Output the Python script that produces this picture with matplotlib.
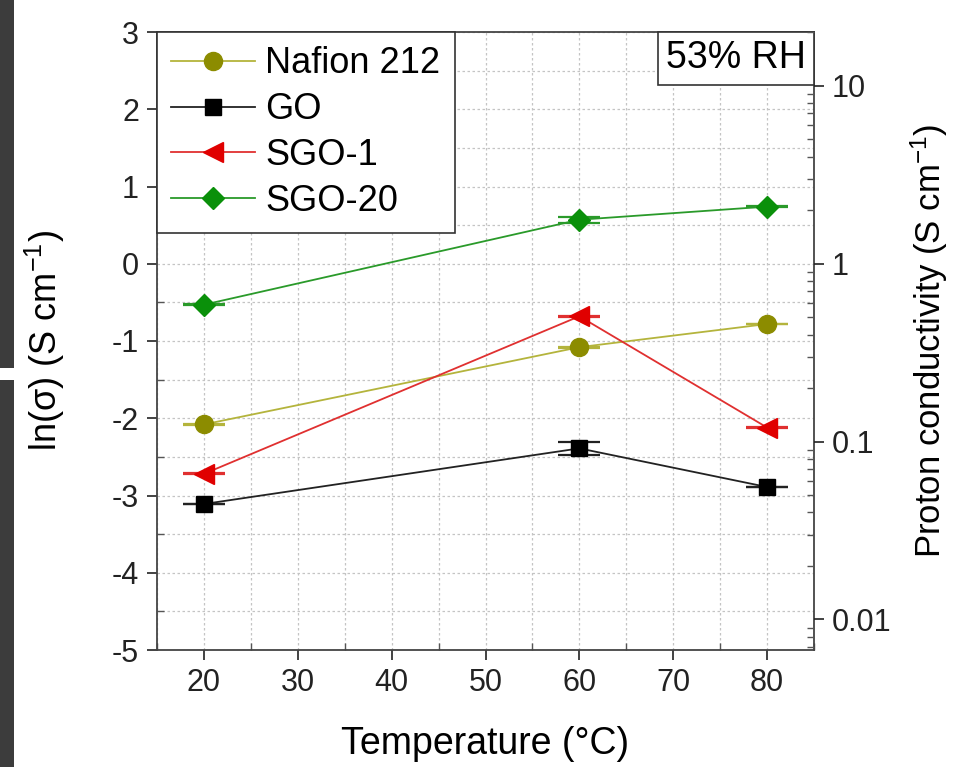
import numpy as np
import matplotlib
matplotlib.use("Agg")
import matplotlib.pyplot as plt
from matplotlib.ticker import MultipleLocator, FixedLocator, LogLocator, NullFormatter
from matplotlib.offsetbox import AnchoredText
from matplotlib.patches import Rectangle

plt.rcParams['font.family'] = ['Liberation Sans', 'DejaVu Sans']
plt.rcParams['axes.unicode_minus'] = False
plt.rcParams['mathtext.fontset'] = 'custom'
plt.rcParams['mathtext.rm'] = 'Liberation Sans'
plt.rcParams['mathtext.it'] = 'Liberation Sans:italic'

# ---- data ----
temps = [20, 60, 80]
nafion = [-2.08, -1.08, -0.78]
go = [-3.11, -2.39, -2.89]
sgo1 = [-2.72, -0.68, -2.12]
sgo20 = [-0.53, 0.57, 0.74]
nafion_err = [0.005, 0.005, 0.005]
go_err = [0.005, 0.08, 0.005]
sgo1_err = [0.005, 0.005, 0.005]
sgo20_err = [0.005, 0.04, 0.005]
labels = ["Nafion 212", "GO", "SGO-1", "SGO-20"]
xticks = [20, 30, 40, 50, 60, 70, 80]
yticks = [-5, -4, -3, -2, -1, 0, 1, 2, 3]
right_ticks = [0.01, 0.1, 1, 10]
right_labels = ["0.01", "0.1", "1", "10"]

W, H = 961, 767
fig = plt.figure(figsize=(W / 100, H / 100), dpi=100)
fig.patch.set_facecolor('white')

# dark strip at far left (cropped neighbouring image)
fig.add_artist(Rectangle((0, (767 - 368) / H), 14 / W, 368 / H, transform=fig.transFigure,
                         facecolor='#3c3c3c', edgecolor='none'))
fig.add_artist(Rectangle((0, 0), 14 / W, (767 - 380) / H, transform=fig.transFigure,
                         facecolor='#3c3c3c', edgecolor='none'))

ax = fig.add_axes([157 / W, (767 - 650) / H, (814 - 157) / W, (650 - 32) / H])
ax.set_xlim(15, 85)
ax.set_ylim(-5, 3)

ax.xaxis.set_major_locator(FixedLocator(xticks))
ax.xaxis.set_minor_locator(MultipleLocator(5))
ax.yaxis.set_major_locator(FixedLocator(yticks))
ax.yaxis.set_minor_locator(MultipleLocator(0.5))
ax.grid(True, which='both', color='#c4c4c4', linestyle=(0, (2, 2)), linewidth=0.9)
ax.set_axisbelow(True)

ax.tick_params(axis='both', which='major', direction='out', length=7, width=1.2,
               labelsize=22, pad=6, colors='#222222')
ax.tick_params(axis='both', which='minor', direction='in', length=5, width=1.0, colors='#555555')
ax.tick_params(axis='y', which='both', right=False)
ax.tick_params(axis='x', which='both', top=False)
for s in ax.spines.values():
    s.set_linewidth(1.3)
    s.set_color('#444444')

series = [
    (nafion, nafion_err, 'o', '#8c8c00', '#b4b43c'),
    (go, go_err, 's', '#000000', '#222222'),
    (sgo1, sgo1_err, '<', '#e00000', '#e03030'),
    (sgo20, sgo20_err, 'D', '#0a900a', '#2a9a2a'),
]
msizes = [13, 11, 14, 11]
for (vals, err, mk, mc, lc), lab, ms in zip(series, labels, msizes):
    ax.errorbar(temps, vals, yerr=err, fmt='none', ecolor=lc, elinewidth=1.5,
                capsize=15, capthick=1.6, zorder=3)
    ax.plot(temps, vals, color=lc, linewidth=1.3, marker=mk, markersize=ms,
            markerfacecolor=mc, markeredgecolor=mc, label=lab, zorder=4)

ax.set_xlabel("Temperature (°C)", fontsize=27, labelpad=20)
ax.set_ylabel("ln(σ) (S cm$^{-1}$)", fontsize=26, labelpad=32)

leg = ax.legend(loc='upper left', bbox_to_anchor=(0, 1), borderaxespad=0,
                fontsize=26, frameon=True, fancybox=False, handlelength=2.3,
                handletextpad=0.3, labelspacing=0.3, borderpad=0.4)
leg.get_frame().set_edgecolor('#333333')
leg.get_frame().set_linewidth(1.2)
leg.get_frame().set_alpha(1)

at = AnchoredText("53% RH", loc='upper right', borderpad=0, pad=0.22,
                  prop=dict(size=27), frameon=True)
at.patch.set_edgecolor('#333333')
at.patch.set_linewidth(1.2)
at.patch.set_boxstyle('square,pad=0')
ax.add_artist(at)

ax2 = ax.twinx()
ax2.set_yscale('log')
ax2.set_ylim(np.exp(-5), np.exp(3))
ax2.yaxis.set_major_locator(FixedLocator(right_ticks))
ax2.set_yticklabels(right_labels)
ax2.yaxis.set_minor_locator(LogLocator(base=10, subs=np.arange(2, 10)))
ax2.yaxis.set_minor_formatter(NullFormatter())
ax2.tick_params(axis='y', which='major', direction='out', length=7, width=1.2,
                labelsize=22, pad=6, colors='#222222')
ax2.tick_params(axis='y', which='minor', direction='in', length=5, width=1.0, colors='#555555')
ax2.set_ylabel("Proton conductivity (S cm$^{-1}$)", fontsize=25, labelpad=12)
for s in ax2.spines.values():
    s.set_visible(False)

fig.savefig("out.png", dpi=100)
